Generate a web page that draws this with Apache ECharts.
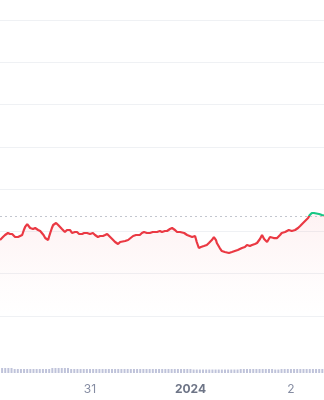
<!DOCTYPE html>
<html>
<head>
<meta charset="utf-8">
<script src="https://cdn.jsdelivr.net/npm/echarts@6/dist/echarts.min.js"></script>
<style>
html,body{margin:0;padding:0;background:#fff;}
#c{width:324px;height:400px;}
</style>
</head>
<body>
<div id="c"></div>
<script>
// hours since Dec 30 00:00
var hours = [2.5,2.9,3.2,3.7,4.4,4.9,5.4,5.8,6.1,6.8,7.3,7.8,8.2,8.5,9.0,9.3,9.7,10.0,10.4,10.9,11.6,12.1,12.5,12.9,13.3,13.6,14.0,14.2,14.5,14.9,15.2,15.9,16.4,16.8,17.3,18.0,18.5,19.2,19.7,19.9,20.4,20.9,21.4,22.1,22.6,23.3,24.0,24.7,25.2,25.9,26.4,27.1,27.6,28.1,28.5,29.3,30.0,30.7,31.2,31.6,32.4,33.1,33.5,34.3,35.0,35.9,36.4,36.9,37.6,38.3,39.0,40.0,40.7,41.2,41.9,42.4,43.1,43.6,44.3,44.8,45.5,46.5,47.2,47.6,48.4,48.8,49.1,49.5,50.0,50.5,51.2,51.9,52.4,53.1,53.6,54.1,54.3,55.0,55.5,56.2,57.2,57.9,58.6,59.3,60.3,61.0,61.5,62.2,62.7,63.4,63.9,64.6,65.1,65.6,66.3,66.7,67.0,67.9,68.7,69.4,69.8,70.6,71.5,72.2,73.0,73.7,74.2,74.9,75.3,76.1,76.5,77.0,77.5,77.9,78.7,79.4,79.9];
var prices = [1.797,1.844,1.868,1.915,1.963,1.939,1.939,1.892,1.868,1.868,1.892,1.915,2.034,2.105,2.175,2.128,2.081,2.105,2.057,2.081,2.034,2.010,1.963,1.915,1.844,1.821,1.797,1.868,1.963,2.081,2.152,2.199,2.152,2.105,2.057,1.986,2.034,2.034,1.963,1.939,1.986,1.986,1.939,1.939,1.963,1.963,1.939,1.963,1.915,1.868,1.892,1.892,1.915,1.939,1.892,1.821,1.750,1.703,1.750,1.773,1.773,1.797,1.844,1.892,1.915,1.915,1.963,1.986,1.963,1.963,1.986,1.986,2.010,1.986,2.010,2.010,2.057,2.081,2.034,1.986,1.986,1.963,1.915,1.868,1.868,1.915,1.892,1.750,1.608,1.632,1.655,1.679,1.726,1.797,1.868,1.797,1.726,1.608,1.537,1.513,1.490,1.513,1.537,1.561,1.608,1.632,1.679,1.655,1.679,1.703,1.726,1.821,1.915,1.821,1.750,1.797,1.868,1.844,1.844,1.915,1.963,1.986,2.034,2.010,2.034,2.081,2.128,2.199,2.246,2.317,2.388,2.436,2.436,2.412,2.412,2.388,2.376];
var baseline = 2.365;
var volHours = [3,3.75,4.5,5.25,6,6.75,7.5,8.25,9,9.75,10.5,11.25,12,12.75,13.5,14.25,15,15.75,16.5,17.25,18,18.75,19.5,20.25,21,21.75,22.5,23.25,24,24.75,25.5,26.25,27,27.75,28.5,29.25,30,30.75,31.5,32.25,33,33.75,34.5,35.25,36,36.75,37.5,38.25,39,39.75,40.5,41.25,42,42.75,43.5,44.25,45,45.75,46.5,47.25,48,48.75,49.5,50.25,51,51.75,52.5,53.25,54,54.75,55.5,56.25,57,57.75,58.5,59.25,60,60.75,61.5,62.25,63,63.75,64.5,65.25,66,66.75,67.5,68.25,69,69.75,70.5,71.25,72,72.75,73.5,74.25,75,75.75,76.5,77.25,78,78.75,79.5];
var volumes = [5,5,5,5,4,4,4,4,4,4,4,4,4,4,4,4,5,5,5,5,5,5,4,4,4,4,4,4,4,4,4,4,4,4,4,4,4,4,4,4,4,4,4,4,4,4,4,4,4,4,4,4,4,4,4,4,4,4,4,4,4,3.5,3.5,3.5,3.5,3.5,3.5,3.5,3.5,3.5,3.5,3.5,3.5,3.5,3.5,3.5,4,4,4,4,4,4,4,4,4,4,4,3.5,3.5,4,4,4,4,4,4,4,4,4,4,4,4,4,4];
var tickHours = [24,48,72];
var tickLabels = ['31','2024','2'];

var priceData = hours.map(function(h,i){return [h, prices[i]];});
var volData = volHours.map(function(h,i){return [h, volumes[i]];});

var chart = echarts.init(document.getElementById('c'), null, {renderer:'canvas'});
chart.setOption({
  animation:false,
  backgroundColor:'#ffffff',
  grid:[
    {left:0, right:0, top:20, bottom:84},
    {left:0, right:0, top:366, bottom:27}
  ],
  xAxis:[
    {type:'value', gridIndex:0, min:2.5, max:79.9,
     axisLine:{show:false}, axisTick:{show:false}, axisLabel:{show:false}, splitLine:{show:false}},
    {type:'value', gridIndex:1, min:2.5, max:79.9,
     axisLine:{show:false}, axisTick:{show:false}, splitLine:{show:false},
     axisLabel:{
       show:true, margin:10, customValues:tickHours,
       fontFamily:'Inter', fontSize:12, color:'#858ca2',
       formatter:function(v){
         var i = tickHours.indexOf(v);
         if(i<0) return '';
         return tickLabels[i]==='2024' ? '{b|2024}' : tickLabels[i];
       },
       rich:{b:{fontFamily:'Inter', fontSize:12, fontWeight:'bold', color:'#6e7587'}}
     }}
  ],
  yAxis:[
    {type:'value', gridIndex:0, min:0, max:7, interval:1,
     axisLine:{show:false}, axisTick:{show:false}, axisLabel:{show:false},
     splitLine:{show:true, lineStyle:{color:'#eff1f4', width:1}}},
    {type:'value', gridIndex:1, min:0, max:7,
     axisLine:{show:false}, axisTick:{show:false}, axisLabel:{show:false}, splitLine:{show:false}}
  ],
  visualMap:{
    show:false, type:'piecewise', seriesIndex:0, dimension:1,
    pieces:[{gt:baseline, lte:7, color:'#16c784'},{gte:0, lte:baseline, color:'#ea3943'}]
  },
  series:[
    {type:'line', xAxisIndex:0, yAxisIndex:0, data:priceData, showSymbol:false,
     lineStyle:{width:2.2},
     areaStyle:{origin:'start', color:new echarts.graphic.LinearGradient(0,0,0,1,[
       {offset:0, color:'rgba(234,57,67,0.09)'},
       {offset:0.7, color:'rgba(234,57,67,0.02)'},
       {offset:1, color:'rgba(234,57,67,0)'}])},
     markLine:{silent:true, symbol:'none', label:{show:false},
       lineStyle:{color:'#c2c6cf', type:[2,3], width:1},
       data:[{yAxis:baseline}]}},
    {type:'bar', xAxisIndex:1, yAxisIndex:1, data:volData, barWidth:2,
     itemStyle:{color:'#bfc3da'}}
  ]
});
</script>
</body>
</html>
